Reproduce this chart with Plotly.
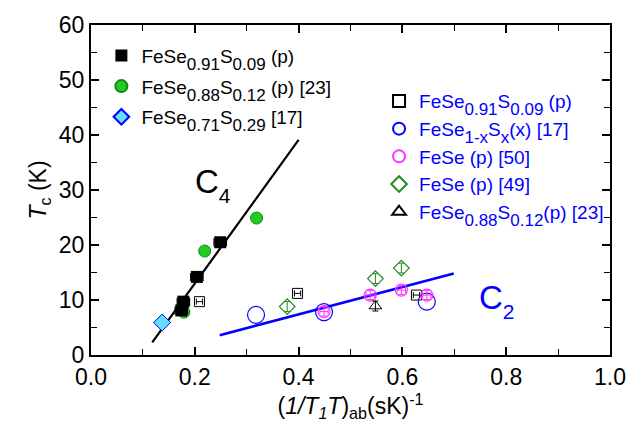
import plotly.graph_objects as go

FONT = "Liberation Sans, Arial, sans-serif"

# Filled black squares: FeSe0.91S0.09 (p)
sq_x = [0.174, 0.178, 0.204, 0.249]
sq_y = [8.1, 9.7, 14.2, 20.5]
# Green filled circles: FeSe0.88S0.12 (p) [23]
gc_x = [0.179, 0.219, 0.319]
gc_y = [7.8, 18.9, 24.9]
# Cyan diamond: FeSe0.71S0.29 [17]
cd_x = [0.137]
cd_y = [5.9]
# Open black squares: FeSe0.91S0.09 (p)
os_x = [0.209, 0.398, 0.627]
os_y = [9.7, 11.2, 10.9]
# Blue open circles: FeSe1-xSx (x) [17]
bc_x = [0.318, 0.449, 0.647]
bc_y = [7.3, 7.8, 9.7]
# Magenta open circles: FeSe (p) [50]
mc_x = [0.449, 0.538, 0.598, 0.647]
mc_y = [7.9, 10.9, 11.8, 10.9]
# Green open diamonds: FeSe (p) [49]
gd_x = [0.378, 0.548, 0.598]
gd_y = [8.8, 13.9, 15.8]
# Open triangle: FeSe0.88S0.12 (p) [23]
tr_x = [0.548]
tr_y = [8.9]
# Fit lines
c4_x = [0.118, 0.400]
c4_y = [2.3, 39.1]
c2_x = [0.248, 0.699]
c2_y = [3.6, 14.8]


def sub(t, px=17, shift=-7):
    return f"<span style='font-size:{px}px;baseline-shift:{shift}px'>{t}</span>"


fig = go.Figure()

fig.add_trace(go.Scatter(x=c4_x, y=c4_y, mode="lines", line=dict(color="black", width=2.2),
                         showlegend=False, hoverinfo="skip"))
fig.add_trace(go.Scatter(x=c2_x, y=c2_y, mode="lines", line=dict(color="blue", width=2.6),
                         showlegend=False, hoverinfo="skip"))

fig.add_trace(go.Scatter(
    x=cd_x, y=cd_y, mode="markers", legend="legend", legendgroup="a3", legendrank=3,
    name="FeSe" + sub("0.71") + "S" + sub("0.29") + " [17]",
    marker=dict(symbol="diamond", size=13, color="#66ddff", line=dict(color="blue", width=1)),
    error_y=dict(type="constant", value=0.7, color="blue", thickness=1, width=3)))
fig.add_trace(go.Scatter(
    x=gc_x, y=gc_y, mode="markers", legend="legend", legendgroup="a2", legendrank=2,
    name="FeSe" + sub("0.88") + "S" + sub("0.12") + " (p) [23]",
    marker=dict(symbol="circle", size=12, color="#22cc22", line=dict(color="#118811", width=1)),
    error_x=dict(type="constant", value=0.006, color="#116611", thickness=1, width=0)))
fig.add_trace(go.Scatter(
    x=sq_x, y=sq_y, mode="markers", legend="legend", legendgroup="a1", legendrank=1,
    name="FeSe" + sub("0.91") + "S" + sub("0.09") + " (p)",
    marker=dict(symbol="square", size=12, color="black"),
    error_x=dict(type="constant", value=0.012, color="black", thickness=1.2, width=4)))

fig.add_trace(go.Scatter(
    x=os_x, y=os_y, mode="markers", legend="legend2",
    name="FeSe" + sub("0.91") + "S" + sub("0.09") + " (p)",
    marker=dict(symbol="square-open", size=10, color="black", line=dict(width=1)),
    error_x=dict(type="constant", value=0.006, color="black", thickness=1, width=3)))
fig.add_trace(go.Scatter(
    x=bc_x, y=bc_y, mode="markers", legend="legend2",
    name="FeSe" + sub("1-x") + "S" + sub("x") + "(x) [17]",
    marker=dict(symbol="circle-open", size=17, color="blue", line=dict(width=1.2))))
fig.add_trace(go.Scatter(
    x=mc_x, y=mc_y, mode="markers", legend="legend2",
    name="FeSe (p) [50]",
    marker=dict(symbol="circle-open", size=12, color="#ff33ff", line=dict(width=1.2)),
    error_y=dict(type="constant", value=0.8, color="#ff33ff", thickness=1, width=3),
    error_x=dict(type="constant", value=0.008, color="#ff33ff", thickness=1, width=3)))
fig.add_trace(go.Scatter(
    x=gd_x, y=gd_y, mode="markers", legend="legend2",
    name="FeSe (p) [49]",
    marker=dict(symbol="diamond-open", size=12, color="#228B22", line=dict(width=1.2)),
    error_y=dict(type="constant", value=0.9, color="#228B22", thickness=1, width=3)))
fig.add_trace(go.Scatter(
    x=tr_x, y=tr_y, mode="markers", legend="legend2",
    name="FeSe" + sub("0.88") + "S" + sub("0.12") + "(p) [23]",
    marker=dict(symbol="triangle-up-open", size=11, color="black", line=dict(width=1)),
    error_y=dict(type="constant", value=0.9, color="black", thickness=1, width=3)))

fig.add_annotation(x=0.236, y=31.0, xref="x", yref="y", text="C" + sub("4", 21, -10), showarrow=False,
                   font=dict(family=FONT, size=33, color="black"))
fig.add_annotation(x=0.782, y=9.8, xref="x", yref="y", text="C" + sub("2", 21, -10), showarrow=False,
                   font=dict(family=FONT, size=33, color="blue"))

axis_common = dict(
    showline=True, linecolor="black", linewidth=2, mirror="allticks",
    ticks="inside", ticklen=8, tickwidth=1.6, tickcolor="black",
    showgrid=False, zeroline=False,
    tickfont=dict(family=FONT, size=23, color="black"),
)

fig.update_xaxes(range=[0, 1.0], dtick=0.2, tickformat=".1f",
                 minor=dict(dtick=0.1, ticks="inside", ticklen=6, tickwidth=1.4, tickcolor="black"),
                 title=dict(text="(<i>1/T</i><sub><i>1</i></sub><i>T</i>)<sub>ab</sub>(sK)<sup>-1</sup>",
                            font=dict(family=FONT, size=23, color="black"), standoff=2),
                 **axis_common)
fig.update_yaxes(range=[0, 60], dtick=10,
                 minor=dict(dtick=5, ticks="inside", ticklen=6, tickwidth=1.4, tickcolor="black"),
                 title=dict(text="<i>T</i><sub>c</sub> (K)",
                            font=dict(family=FONT, size=23, color="black"), standoff=6),
                 **axis_common)

fig.update_layout(
    width=638, height=424,
    margin=dict(l=91, r=18, t=20, b=69),
    paper_bgcolor="white", plot_bgcolor="white",
    font=dict(family=FONT, color="black"),
    legend=dict(x=0.02, y=0.965, xanchor="left", yanchor="top", bgcolor="rgba(0,0,0,0)",
                font=dict(family=FONT, size=19, color="black"), traceorder="grouped",
                itemsizing="constant", tracegroupgap=3),
    legend2=dict(x=0.555, y=0.827, xanchor="left", yanchor="top", bgcolor="rgba(0,0,0,0)",
                 font=dict(family=FONT, size=19, color="blue"),
                 itemsizing="constant", tracegroupgap=0),
)

fig.write_html("out.html")
